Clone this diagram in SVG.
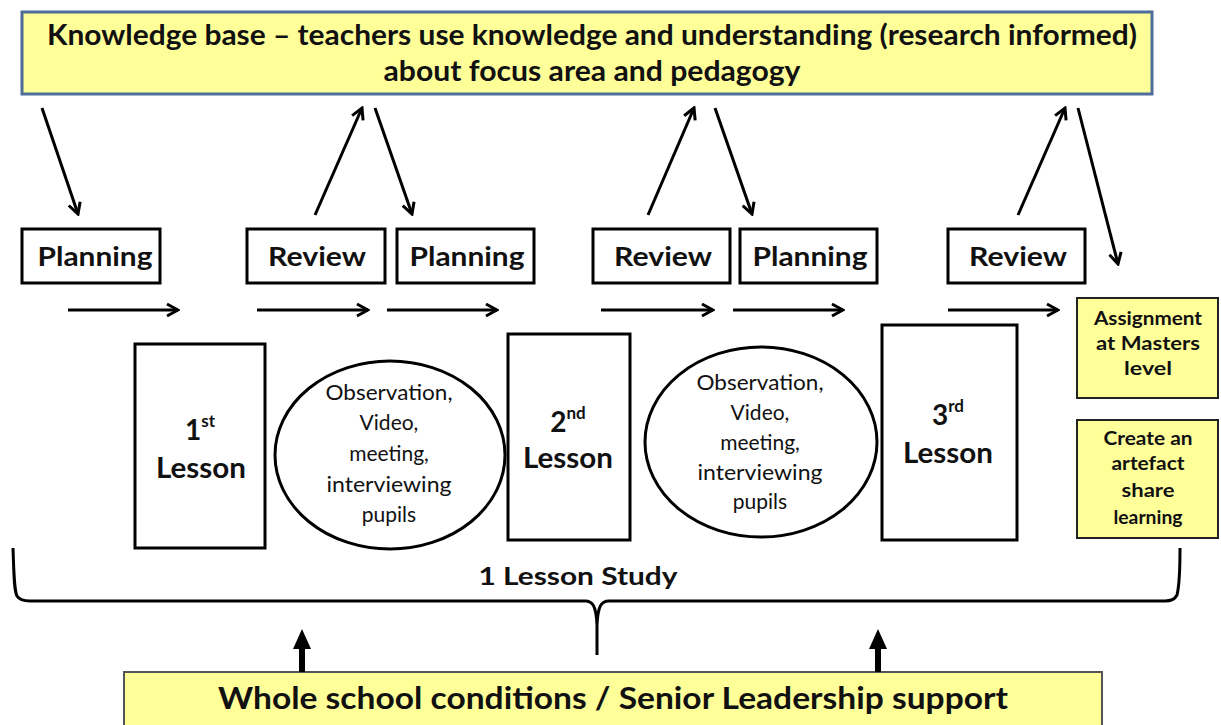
<svg xmlns="http://www.w3.org/2000/svg" width="1221" height="725" viewBox="0 0 1221 725">
<style>
.t{font-family:Lato,"Liberation Sans",sans-serif;font-weight:bold;fill:#111;text-anchor:middle}
.n{font-family:Lato,"Liberation Sans",sans-serif;font-weight:normal;fill:#111;text-anchor:middle}
.box{fill:#fff;stroke:#000;stroke-width:3}
.yel{fill:#FFFF99}
.ln{stroke:#000;stroke-width:3;fill:none}
</style>
<defs>
<marker id="chev" viewBox="0 0 16 16" refX="14" refY="8" markerUnits="userSpaceOnUse" markerWidth="16" markerHeight="16" orient="auto">
<path d="M3,2 L14,8 L3,14" fill="none" stroke="#000" stroke-width="3"/>
</marker>
<marker id="solid" viewBox="0 0 20 22" refX="2" refY="11" markerUnits="userSpaceOnUse" markerWidth="20" markerHeight="22" orient="auto">
<path d="M0,2 L20,11 L0,20 Z" fill="#000"/>
</marker>
</defs>

<g id="knowledge">
<rect x="22" y="12" width="1130" height="82" class="yel" stroke="#4F6D99" stroke-width="3"/>
<text class="t" x="592" y="45" font-size="28" textLength="1090" lengthAdjust="spacingAndGlyphs">Knowledge base – teachers use knowledge and understanding (research informed)</text>
<text class="t" x="592" y="81" font-size="28" textLength="417" lengthAdjust="spacingAndGlyphs">about focus area and pedagogy</text>
</g>

<g id="planning1"><rect class="box" x="22" y="229" width="138" height="54"/><text class="t" x="95" y="266" font-size="26" textLength="115" lengthAdjust="spacingAndGlyphs">Planning</text></g>
<g id="review1"><rect class="box" x="247" y="229" width="138" height="54"/><text class="t" x="317" y="266" font-size="26" textLength="98" lengthAdjust="spacingAndGlyphs">Review</text></g>
<g id="planning2"><rect class="box" x="397" y="229" width="137" height="54"/><text class="t" x="467" y="266" font-size="26" textLength="115" lengthAdjust="spacingAndGlyphs">Planning</text></g>
<g id="review2"><rect class="box" x="593" y="229" width="137" height="54"/><text class="t" x="663" y="266" font-size="26" textLength="98" lengthAdjust="spacingAndGlyphs">Review</text></g>
<g id="planning3"><rect class="box" x="740" y="229" width="137" height="54"/><text class="t" x="810" y="266" font-size="26" textLength="115" lengthAdjust="spacingAndGlyphs">Planning</text></g>
<g id="review3"><rect class="box" x="948" y="229" width="137" height="54"/><text class="t" x="1018" y="266" font-size="26" textLength="98" lengthAdjust="spacingAndGlyphs">Review</text></g>

<g id="lesson1"><rect class="box" x="135" y="344" width="130" height="204"/>
<text class="t" x="200" y="440" font-size="28">1<tspan font-size="17" dy="-13">st</tspan></text>
<text class="t" x="201" y="478" font-size="28" textLength="90" lengthAdjust="spacingAndGlyphs">Lesson</text></g>
<g id="lesson2"><rect class="box" x="508" y="334" width="122" height="206"/>
<text class="t" x="568" y="432" font-size="28">2<tspan font-size="17" dy="-13">nd</tspan></text>
<text class="t" x="568" y="468" font-size="28" textLength="90" lengthAdjust="spacingAndGlyphs">Lesson</text></g>
<g id="lesson3"><rect class="box" x="882" y="325" width="135" height="215"/>
<text class="t" x="948" y="425" font-size="28">3<tspan font-size="17" dy="-13">rd</tspan></text>
<text class="t" x="948" y="463" font-size="28" textLength="90" lengthAdjust="spacingAndGlyphs">Lesson</text></g>

<g id="observation1"><ellipse cx="390" cy="455" rx="115" ry="94" class="box"/>
<text class="n" x="389" y="400" font-size="21" textLength="127" lengthAdjust="spacingAndGlyphs">Observation,</text>
<text class="n" x="389" y="430" font-size="21">Video,</text>
<text class="n" x="389" y="461" font-size="21">meeting,</text>
<text class="n" x="389" y="492" font-size="21" textLength="125" lengthAdjust="spacingAndGlyphs">interviewing</text>
<text class="n" x="389" y="522" font-size="21">pupils</text></g>
<g id="observation2"><ellipse cx="761" cy="442" rx="116" ry="95" class="box"/>
<text class="n" x="760" y="390" font-size="21" textLength="127" lengthAdjust="spacingAndGlyphs">Observation,</text>
<text class="n" x="760" y="420" font-size="21">Video,</text>
<text class="n" x="760" y="450" font-size="21">meeting,</text>
<text class="n" x="760" y="480" font-size="21" textLength="125" lengthAdjust="spacingAndGlyphs">interviewing</text>
<text class="n" x="760" y="509" font-size="21">pupils</text></g>

<g id="assignment"><rect class="yel" x="1077" y="298" width="141" height="100" stroke="#222" stroke-width="2"/>
<text class="t" x="1148" y="325" font-size="19" textLength="108" lengthAdjust="spacingAndGlyphs">Assignment</text>
<text class="t" x="1148" y="350" font-size="19" textLength="104" lengthAdjust="spacingAndGlyphs">at Masters</text>
<text class="t" x="1148" y="375" font-size="19" textLength="48" lengthAdjust="spacingAndGlyphs">level</text></g>
<g id="artefact"><rect class="yel" x="1077" y="420" width="141" height="118" stroke="#222" stroke-width="2"/>
<text class="t" x="1148" y="445" font-size="19" textLength="89" lengthAdjust="spacingAndGlyphs">Create an</text>
<text class="t" x="1148" y="470" font-size="19" textLength="73" lengthAdjust="spacingAndGlyphs">artefact</text>
<text class="t" x="1148" y="497" font-size="19" textLength="53" lengthAdjust="spacingAndGlyphs">share</text>
<text class="t" x="1148" y="524" font-size="19" textLength="69" lengthAdjust="spacingAndGlyphs">learning</text></g>

<g id="lessonstudy">
<path class="ln" stroke-width="2.5" d="M13,548 C14,575 14,590 17,596 Q20,601 30,601 L585,601 C593,601 596,606 597,625 L597,655 M597,625 C598,606 601,601 609,601 L1165,601 Q1174,601 1177,595 C1179,587 1180,570 1180,548"/>
<text class="t" x="578" y="585" font-size="24" textLength="199" lengthAdjust="spacingAndGlyphs">1 Lesson Study</text>
</g>

<g id="school">
<rect class="yel" x="124" y="672" width="978" height="60" stroke="#555" stroke-width="2"/>
<text class="t" x="613" y="709" font-size="31" textLength="790" lengthAdjust="spacingAndGlyphs">Whole school conditions  / Senior Leadership support</text>
</g>

<g id="connectors">
<line class="ln" x1="42" y1="108" x2="78" y2="214" marker-end="url(#chev)"/>
<line class="ln" x1="315" y1="215" x2="362" y2="108" marker-end="url(#chev)"/>
<line class="ln" x1="375" y1="108" x2="412" y2="214" marker-end="url(#chev)"/>
<line class="ln" x1="648" y1="215" x2="694" y2="108" marker-end="url(#chev)"/>
<line class="ln" x1="715" y1="108" x2="752" y2="214" marker-end="url(#chev)"/>
<line class="ln" x1="1018" y1="215" x2="1065" y2="108" marker-end="url(#chev)"/>
<line class="ln" x1="1078" y1="108" x2="1118" y2="264" marker-end="url(#chev)"/>
<line class="ln" x1="68" y1="310" x2="178" y2="310" marker-end="url(#chev)"/>
<line class="ln" x1="257" y1="310" x2="368" y2="310" marker-end="url(#chev)"/>
<line class="ln" x1="387" y1="310" x2="497" y2="310" marker-end="url(#chev)"/>
<line class="ln" x1="601" y1="310" x2="713" y2="310" marker-end="url(#chev)"/>
<line class="ln" x1="733" y1="310" x2="843" y2="310" marker-end="url(#chev)"/>
<line class="ln" x1="948" y1="310" x2="1058" y2="310" marker-end="url(#chev)"/>
<line x1="302" y1="672" x2="302" y2="647" stroke="#000" stroke-width="6" marker-end="url(#solid)"/>
<line x1="878" y1="672" x2="878" y2="647" stroke="#000" stroke-width="6" marker-end="url(#solid)"/>
</g>
</svg>
